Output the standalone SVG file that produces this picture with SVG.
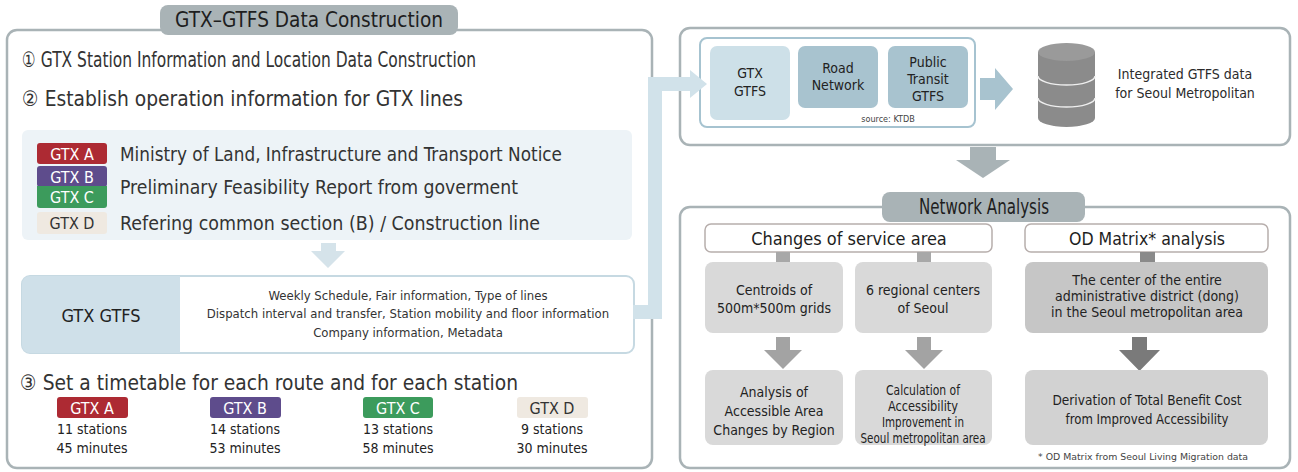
<svg xmlns="http://www.w3.org/2000/svg" width="1298" height="472" viewBox="0 0 1298 472">
<style>
  text { font-family: "DejaVu Sans Condensed", "Liberation Sans", sans-serif; fill: #2b2b2b; }
  .frame { fill: #ffffff; stroke: #a9b3b6; stroke-width: 2.5; }
  .tab { fill: #a9b3b6; }
  .tabt { font-size: 21px; text-anchor: middle; fill: #1e1e1e; }
  .step { font-size: 21px; fill: #333; }
  .badge { font-size: 16px; text-anchor: middle; fill: #fff; }
  .note { font-size: 19px; fill: #333; }
  .small { font-size: 13px; text-anchor: middle; fill: #333; }
  .cnt { font-size: 14px; text-anchor: middle; fill: #222; }
  .tile { font-size: 14px; text-anchor: middle; fill: #222; }
  .head { fill: #ffffff; stroke: #b7aeac; stroke-width: 1.5; }
  .headt { font-size: 18px; text-anchor: middle; fill: #1e1e1e; }
  .g1 { fill: #d9d9d9; }
  .g2 { fill: #c6c6c6; }
  .red { fill: #ad2a33; } .pur { fill: #5e4c8c; } .grn { fill: #3c9b5c; } .bei { fill: #efe9e1; }
</style>

<!-- left panel: GTX-GTFS data construction -->
<g id="gtx-gtfs-construction">
  <rect class="frame" x="7" y="30" width="645" height="438" rx="10"/>
  <rect class="tab" x="160" y="5" width="298" height="30" rx="8"/>
  <text class="tabt" x="309" y="27" textLength="268" lengthAdjust="spacingAndGlyphs">GTX–GTFS Data Construction</text>
  <text class="step" x="22" y="67" font-size="19" textLength="454" lengthAdjust="spacingAndGlyphs">① GTX Station Information and Location Data Construction</text>
  <text class="step" x="22" y="106" textLength="441" lengthAdjust="spacingAndGlyphs">② Establish operation information for GTX lines</text>
</g>

<g id="operation-sources">
  <rect x="22" y="130" width="610" height="110" rx="6" fill="#edf3f7"/>
  <rect class="red" x="37" y="143" width="70" height="21" rx="3"/>
  <text class="badge" x="72" y="160">GTX A</text>
  <text class="note" x="120" y="161" textLength="442" lengthAdjust="spacingAndGlyphs">Ministry of Land, Infrastructure and Transport Notice</text>
  <rect class="pur" x="37" y="166" width="70" height="21" rx="3"/>
  <rect class="grn" x="37" y="186" width="70" height="22" rx="3"/>
  <rect class="grn" x="37" y="186" width="70" height="6"/>
  <text class="badge" x="72" y="183">GTX B</text>
  <text class="badge" x="72" y="203">GTX C</text>
  <text class="note" x="120" y="194" textLength="398" lengthAdjust="spacingAndGlyphs">Preliminary Feasibility Report from goverment</text>
  <rect class="bei" x="37" y="212" width="70" height="22" rx="3"/>
  <text class="badge" x="72" y="229" style="fill:#333">GTX D</text>
  <text class="note" x="120" y="230" textLength="420" lengthAdjust="spacingAndGlyphs">Refering common section (B) / Construction line</text>
  <!-- small down arrow -->
  <polygon points="321,243 336,243 336,251 345,251 328,268 311,251 321,251" fill="#d5e3ea"/>
</g>

<g id="gtx-gtfs-box">
  <rect x="22" y="276" width="612" height="77" rx="8" fill="#ffffff" stroke="#c6d9e2" stroke-width="2"/>
  <path d="M30,276 H180 V353 H30 A8,8 0 0 1 22,345 V284 A8,8 0 0 1 30,276 Z" fill="#cfe0e9"/>
  <text x="101" y="322" font-size="18" text-anchor="middle" style="fill:#222">GTX GTFS</text>
  <text class="small" x="408" y="300">Weekly Schedule, Fair information, Type of lines</text>
  <text class="small" x="408" y="318">Dispatch interval and transfer, Station mobility and floor information</text>
  <text class="small" x="408" y="337">Company information, Metadata</text>
</g>

<g id="timetable">
  <text class="step" x="20" y="390" font-size="23" textLength="498" lengthAdjust="spacingAndGlyphs">③ Set a timetable for each route and for each station</text>
  <rect class="red" x="57" y="397" width="71" height="21" rx="3"/>
  <text class="badge" x="92" y="414">GTX A</text>
  <text class="cnt" x="92" y="434">11 stations</text>
  <text class="cnt" x="92" y="453">45 minutes</text>
  <rect class="pur" x="210" y="397" width="71" height="21" rx="3"/>
  <text class="badge" x="245" y="414">GTX B</text>
  <text class="cnt" x="245" y="434">14 stations</text>
  <text class="cnt" x="245" y="453">53 minutes</text>
  <rect class="grn" x="363" y="397" width="70" height="21" rx="3"/>
  <text class="badge" x="398" y="414">GTX C</text>
  <text class="cnt" x="398" y="434">13 stations</text>
  <text class="cnt" x="398" y="453">58 minutes</text>
  <rect class="bei" x="517" y="397" width="71" height="21" rx="3"/>
  <text class="badge" x="552" y="414" style="fill:#333">GTX D</text>
  <text class="cnt" x="552" y="434">9 stations</text>
  <text class="cnt" x="552" y="453">30 minutes</text>
</g>

<!-- top right: integrated GTFS -->
<g id="integrated-gtfs">
  <rect class="frame" x="680" y="28" width="610" height="117" rx="10"/>
  <rect x="700" y="38" width="275" height="89" rx="7" fill="#ffffff" stroke="#a6c3d0" stroke-width="2"/>
  <rect x="710" y="46" width="80" height="74" rx="7" fill="#cde0e8"/>
  <text class="tile" x="750" y="78">GTX</text>
  <text class="tile" x="750" y="96">GTFS</text>
  <rect x="798" y="46" width="80" height="62" rx="7" fill="#a8c3cf"/>
  <text class="tile" x="838" y="73">Road</text>
  <text class="tile" x="838" y="90">Network</text>
  <rect x="888" y="46" width="80" height="62" rx="7" fill="#a8c3cf"/>
  <text class="tile" x="928" y="67">Public</text>
  <text class="tile" x="928" y="84">Transit</text>
  <text class="tile" x="928" y="101">GTFS</text>
  <text x="888" y="122" font-size="9" text-anchor="middle" style="fill:#444">source: KTDB</text>
  <polygon points="980,78 995,78 995,68 1013,89 995,110 995,100 980,100" fill="#a8c3cf"/>
  <!-- database cylinder -->
  <g id="database">
    <path d="M1038,52 V118 A28.5,9 0 0 0 1095,118 V52 Z" fill="#8b8b8b"/>
    <ellipse cx="1066.5" cy="52" rx="28.5" ry="9" fill="#9a9a9a"/>
    <path d="M1038,76 A28.5,9 0 0 0 1095,76" fill="none" stroke="#eeeeee" stroke-width="1.5"/>
    <path d="M1038,98 A28.5,9 0 0 0 1095,98" fill="none" stroke="#eeeeee" stroke-width="1.5"/>
  </g>
  <text x="1185" y="79" font-size="14" text-anchor="middle">Integrated GTFS data</text>
  <text x="1185" y="98" font-size="14" text-anchor="middle">for Seoul Metropolitan</text>
</g>

<!-- bottom right: network analysis -->
<g id="network-analysis">
  <rect class="frame" x="680" y="207" width="610" height="261" rx="10"/>
  <rect class="tab" x="882" y="192" width="203" height="30" rx="8"/>
  <text class="tabt" x="984" y="214" font-size="20" textLength="130" lengthAdjust="spacingAndGlyphs">Network Analysis</text>
</g>

<g id="service-area">
  <rect class="head" x="705" y="224" width="287" height="28" rx="6"/>
  <text class="headt" x="849" y="245">Changes of service area</text>
  <rect x="776" y="252" width="14" height="10" fill="#a8a8a8"/>
  <rect x="917" y="252" width="14" height="10" fill="#a8a8a8"/>
  <rect class="g1" x="705" y="262" width="138" height="71" rx="8"/>
  <text class="tile" x="774" y="295">Centroids of</text>
  <text class="tile" x="774" y="313">500m*500m grids</text>
  <rect class="g1" x="855" y="262" width="137" height="71" rx="8"/>
  <text class="tile" x="923" y="295">6 regional centers</text>
  <text class="tile" x="923" y="313">of Seoul</text>
  <polygon points="776,337 790,337 790,350 802,350 783,369 764,350 776,350" fill="#a3a3a3"/>
  <polygon points="917,337 931,337 931,350 943,350 924,369 905,350 917,350" fill="#a3a3a3"/>
  <rect class="g1" x="705" y="370" width="138" height="75" rx="8"/>
  <text class="tile" x="774" y="397" font-size="13">Analysis of</text>
  <text class="tile" x="774" y="416" font-size="13">Accessible Area</text>
  <text class="tile" x="774" y="435" font-size="13">Changes by Region</text>
  <rect class="g1" x="855" y="370" width="137" height="75" rx="8"/>
  <text class="tile" x="923" y="395" font-size="11" textLength="74" lengthAdjust="spacingAndGlyphs">Calculation of</text>
  <text class="tile" x="923" y="411" font-size="11" textLength="70" lengthAdjust="spacingAndGlyphs">Accessibility</text>
  <text class="tile" x="923" y="427" font-size="11" textLength="82" lengthAdjust="spacingAndGlyphs">Improvement in</text>
  <text class="tile" x="923" y="443" font-size="11" textLength="125" lengthAdjust="spacingAndGlyphs">Seoul metropolitan area</text>
</g>

<g id="od-matrix">
  <rect class="head" x="1025" y="224" width="243" height="28" rx="6"/>
  <text class="headt" x="1147" y="245" textLength="156" lengthAdjust="spacingAndGlyphs">OD Matrix* analysis</text>
  <rect x="1140" y="252" width="15" height="10" fill="#8a8a8a"/>
  <rect class="g2" x="1025" y="262" width="243" height="71" rx="8"/>
  <text class="tile" x="1147" y="285">The center of the entire</text>
  <text class="tile" x="1147" y="301">administrative district (dong)</text>
  <text class="tile" x="1147" y="317">in the Seoul metropolitan area</text>
  <polygon points="1132,337 1147,337 1147,350 1160,350 1139.5,371 1119,350 1132,350" fill="#7a7a7a"/>
  <rect x="1025" y="370" width="243" height="75" rx="8" fill="#d2d2d2"/>
  <text class="tile" x="1147" y="405" font-size="14.5" textLength="189" lengthAdjust="spacingAndGlyphs">Derivation of Total Benefit Cost</text>
  <text class="tile" x="1147" y="424" font-size="14.5" textLength="163" lengthAdjust="spacingAndGlyphs">from Improved Accessibility</text>
  <text x="1143" y="460" font-size="9.5" text-anchor="middle" textLength="210" lengthAdjust="spacingAndGlyphs" style="fill:#444">* OD Matrix from Seoul Living Migration data</text>
</g>

<!-- connectors -->
<g id="connectors">
  <polyline points="633,312 655,312 655,84 692,84" fill="none" stroke="#d1e2ea" stroke-width="14"/>
  <polygon points="690,70 707,84 690,98" fill="#d1e2ea"/>
  <polygon points="970,147 996,147 996,160 1010,160 983,178 956,160 970,160" fill="#a9b3b6"/>
</g>
</svg>
